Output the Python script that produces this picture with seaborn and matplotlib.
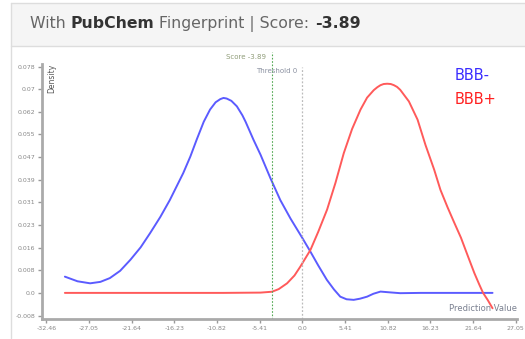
import matplotlib
matplotlib.use("Agg")
import matplotlib.pyplot as plt
from matplotlib.patches import Rectangle
from matplotlib.lines import Line2D
import numpy as np
import pandas as pd
import seaborn as sns

# Density curves of prediction values for each class
neg_x = [-30.1, -28.5, -26.9, -25.6, -24.4, -23.1, -21.8, -20.5, -19.3, -18.0, -16.8, -15.1,
         -14.2, -13.4, -12.5, -11.7, -11.0, -10.4, -10.0, -9.6, -9.0, -8.3,
         -7.6, -7.2, -6.2, -5.3, -4.06, -2.8, -1.5,
         0.0, 1.0, 2.0, 3.1, 4.0, 4.8, 5.6, 6.5, 7.3, 8.2,
         9.0, 9.9, 11.0, 12.4, 15.0, 20.0, 24.1]
neg_y = [0.0056, 0.0040, 0.0033, 0.0038, 0.0051, 0.0076, 0.0114, 0.0157, 0.0206, 0.0262, 0.0320, 0.0413,
         0.0470, 0.0528, 0.0590, 0.0632, 0.0657, 0.0668, 0.0672, 0.0670, 0.0662, 0.0643,
         0.0612, 0.0590, 0.0528, 0.0476, 0.0396, 0.0320, 0.0256,
         0.0189, 0.0143, 0.0095, 0.0045, 0.0012, -0.0013, -0.0022, -0.0024, -0.0020, -0.0013,
         -0.0003, 0.00045, 0.0002, -0.0001, 0.0, 0.0, 0.0]

pos_x = [-30.1, -20.0, -10.0, -5.3, -3.85, -3.0, -1.94, -1.0, -0.25, 1.02,
         2.0, 3.13, 4.2, 5.25, 6.3, 7.37, 8.2, 9.05, 9.5, 9.9, 10.3, 10.75,
         11.2, 11.6, 12.0, 12.4, 13.5, 14.6, 15.6, 16.7, 17.5, 18.4, 19.2, 20.1,
         21.0, 21.8, 22.4, 22.9, 23.5, 24.1]
pos_y = [0.0, 0.0, 0.0, 0.0001, 0.0004, 0.0013, 0.0033, 0.0060, 0.0091, 0.0148,
         0.0210, 0.0287, 0.0380, 0.0482, 0.0565, 0.0632, 0.0673, 0.0699, 0.0709, 0.0716, 0.0720, 0.0721,
         0.0720, 0.0716, 0.0710, 0.0700, 0.0660, 0.0597, 0.0510, 0.0425, 0.0355, 0.0295, 0.0245, 0.0190,
         0.0125, 0.0068, 0.0030, 0.0, -0.0025, -0.0053]

class_labels = ["BBB-", "BBB+"]
score = -3.89
threshold = 0.0

x_ticks = [-32.46, -27.05, -21.64, -16.23, -10.82, -5.41, 0.0, 5.41, 10.82, 16.23, 21.64, 27.05]
x_tick_labels = ["-32.46", "-27.05", "-21.64", "-16.23", "-10.82", "-5.41", "0.0",
                 "5.41", "10.82", "16.23", "21.64", "27.05"]
y_ticks = [-0.0078, 0.0, 0.0078, 0.0156, 0.0234, 0.0312, 0.039, 0.0468, 0.0546, 0.0624, 0.0702, 0.078]
y_tick_labels = ["-0.008", "0.0", "0.008", "0.016", "0.023", "0.031", "0.039",
                 "0.047", "0.055", "0.062", "0.07", "0.078"]

df = pd.concat([
    pd.DataFrame({"value": neg_x, "density": neg_y, "cls": class_labels[0]}),
    pd.DataFrame({"value": pos_x, "density": pos_y, "cls": class_labels[1]}),
], ignore_index=True)

sns.set_style("white")
plt.rcParams["font.family"] = ["DejaVu Sans"]

W, H = 525, 339
fig = plt.figure(figsize=(W / 100, H / 100), dpi=100)
fig.patch.set_facecolor("white")

def fx(px):
    return px / W

def fy(py):
    return 1 - py / H

# Card header and frame
fig.patches.append(Rectangle((fx(11), fy(46)), 1 - fx(11), fy(3) - fy(46),
                             transform=fig.transFigure, facecolor="#f5f5f5",
                             edgecolor="none", zorder=0))
fig.lines.append(Line2D([fx(11), 1], [fy(46), fy(46)], transform=fig.transFigure,
                        color="#dddddd", lw=1))
fig.lines.append(Line2D([fx(11), 1], [fy(3), fy(3)], transform=fig.transFigure,
                        color="#dddddd", lw=1))
fig.lines.append(Line2D([fx(11), fx(11)], [fy(3), fy(338)], transform=fig.transFigure,
                        color="#dddddd", lw=1))

hsize = 11.3
t1 = fig.text(fx(30), fy(24), "With ", fontsize=hsize, color="#666666", va="center", ha="left")
fig.canvas.draw()
r = fig.canvas.get_renderer()

def after(t):
    bb = t.get_window_extent(renderer=r)
    return bb.x1 / W

t2 = fig.text(after(t1), fy(24), "PubChem", fontsize=hsize, color="#333333",
              fontweight="bold", va="center", ha="left")
t3 = fig.text(after(t2), fy(24), " Fingerprint | Score: ", fontsize=hsize, color="#666666",
              va="center", ha="left")
t4 = fig.text(after(t3), fy(24), "-3.89", fontsize=hsize, color="#333333",
              fontweight="bold", va="center", ha="left")

ax = fig.add_axes([fx(42), fy(319), fx(517) - fx(42), fy(64) - fy(319)])
ax.set_facecolor("white")

sns.lineplot(data=df, x="value", y="density", hue="cls", palette=["#5b5bff", "#ff5a5a"],
             sort=False, estimator=None, legend=False, lw=1.4, ax=ax)
for ln in ax.get_lines():
    ln.set_solid_joinstyle("round")

ax.set_xlim(-33.0, 27.2)
ax.set_ylim(-0.009, 0.0789)

ax.set_xticks(x_ticks)
ax.set_xticklabels(x_tick_labels)
ax.set_yticks(y_ticks)
ax.set_yticklabels(y_tick_labels)
ax.tick_params(axis="both", labelsize=4.5, colors="#999999", length=3, width=1,
               labelcolor="#888888", pad=2, direction="out")
ax.tick_params(axis="x", bottom=True)
ax.tick_params(axis="y", left=True)
for side in ["top", "right"]:
    ax.spines[side].set_visible(False)
for side in ["left", "bottom"]:
    ax.spines[side].set_color("#aaaaaa")
    ax.spines[side].set_linewidth(2)
ax.set_xlabel("")
ax.set_ylabel("")
ax.grid(False)

# Score and threshold markers
ax.plot([score, score], [-0.009, 0.0832], color="#55aa55", lw=0.8, ls=(0, (1.5, 1.5)),
        clip_on=False)
ax.plot([threshold, threshold], [-0.009, 0.0778], color="#bbbbbb", lw=0.9, ls=(0, (1.5, 1.5)),
        clip_on=False)
ax.text(score - 0.7, 0.0812, "Score -3.89", fontsize=5, color="#8f9c78", ha="right",
        va="center", clip_on=False)
ax.text(threshold - 0.7, 0.0766, "Threshold 0", fontsize=5, color="#8a90a0", ha="right",
        va="center", clip_on=False)

# Axis captions
ax.text(0.012, 1.0, "Density", transform=ax.transAxes, rotation=90, fontsize=5.5,
        color="#555555", ha="left", va="top")
ax.text(1.0, 0.025, "Prediction Value", transform=ax.transAxes, fontsize=6,
        color="#7a8090", ha="right", va="bottom")

# Class labels
ax.text(fx(455), fy(75), class_labels[0], transform=fig.transFigure, fontsize=10.5,
        color="#3a2cff", ha="left", va="center")
ax.text(fx(455), fy(100), class_labels[1], transform=fig.transFigure, fontsize=10.5,
        color="#ff2020", ha="left", va="center")

fig.savefig("out.png", dpi=100)
